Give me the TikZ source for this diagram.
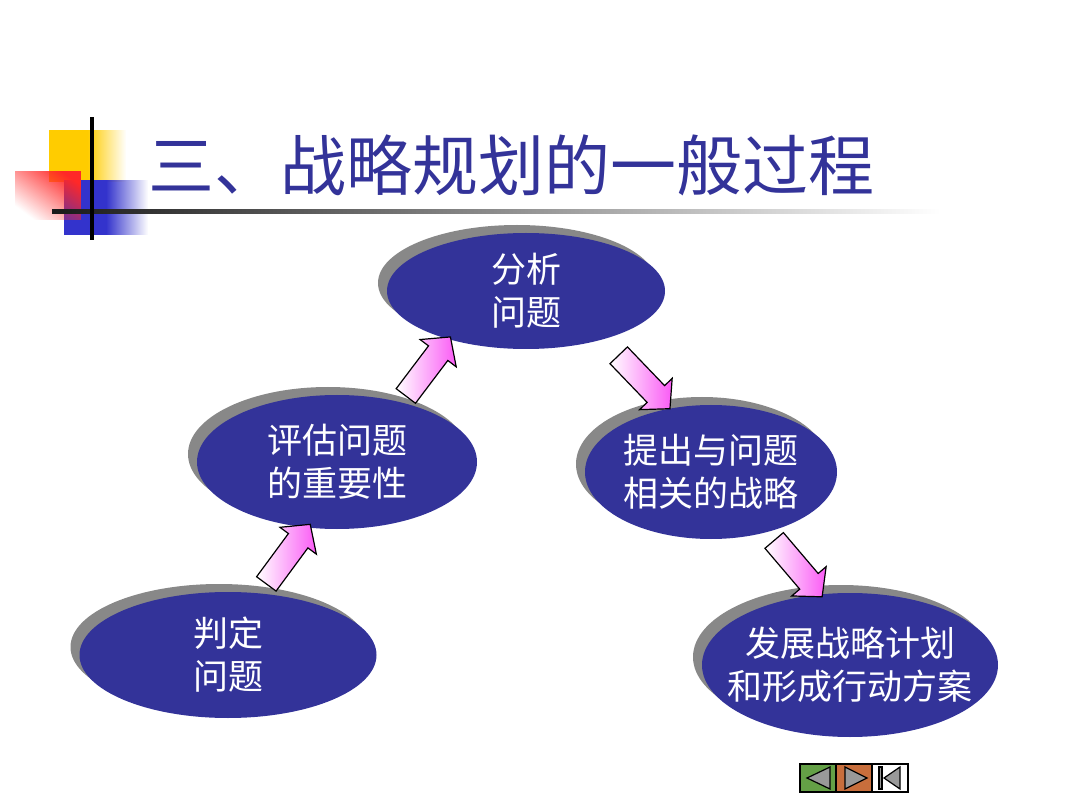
\documentclass[tikz,border=0pt]{standalone}
\usepackage{fontspec}
\setmainfont{Noto Sans CJK SC}
\usetikzlibrary{shapes.geometric,shapes.arrows,shadows,fadings}
\definecolor{stageblue}{RGB}{51,51,153}
\definecolor{shadowgray}{RGB}{136,136,136}
\definecolor{arrowpink}{RGB}{250,90,245}
\definecolor{decoyellow}{RGB}{255,204,0}
\definecolor{decored}{RGB}{255,40,40}
\definecolor{decoblue}{RGB}{51,51,204}
\definecolor{navgreen}{RGB}{100,160,70}
\definecolor{navorange}{RGB}{200,110,60}
\tikzfading[name=halfeast, left color=transparent!0, right color=transparent!100, middle color=transparent!0]
\tikzfading[name=redfade, left color=transparent!100, right color=transparent!0]
\tikzset{
  stage/.style={ellipse, fill=stageblue, text=white, inner sep=0pt, align=center,
    font=\fontsize{35}{43}\selectfont,
    drop shadow={shadow xshift=-9pt, shadow yshift=8pt, opacity=1, fill=shadowgray}},
  bigarrow/.style={single arrow, draw=black, line width=1.2pt, inner xsep=0pt, inner ysep=11.5pt,
    minimum height=74pt, single arrow head extend=10.5pt,
    single arrow tip angle=96, sloped, left color=white, right color=arrowpink},
  navtri/.style={fill=gray!80, draw=black, line width=1.2pt}
}
\begin{document}
\begin{tikzpicture}[x=1pt,y=-1pt]
    \useasboundingbox (0,0) rectangle (1080,810);
    \fill[decoyellow, path fading=halfeast] (49,130) rectangle (126,182);
    \fill[decoblue, path fading=halfeast] (64,180) rectangle (148,235);
    \fill[decored, path fading=redfade, fading angle=45] (15,171) rectangle (81,220);
    \shade[left color=black!90, middle color=black!60, right color=white] (52,210) rectangle (940,214);
    \fill[black] (90,117) rectangle (94,240);
    \node[anchor=west, text=stageblue, font=\fontsize{66}{70}\selectfont, inner sep=0pt] (title) at (148,165) {三、战略规划的一般过程};
    \node[stage, minimum width=278pt, minimum height=116pt] (fx) at (526,291) {分析\\问题};
    \node[stage, minimum width=280pt, minimum height=134pt] (pg) at (337,462) {评估问题\\的重要性};
    \node[stage, minimum width=252pt, minimum height=134pt] (tc) at (711,472) {提出与问题\\相关的战略};
    \node[stage, minimum width=297pt, minimum height=126pt] (pd) at (228,655) {判定\\问题};
    \node[stage, minimum width=296pt, minimum height=144pt, inner xsep=-18pt] (fz) at (850,665) {发展战略计划\\和形成行动方案};
    \path (pd.63) -- node[bigarrow, pos=.53] (arA) {} (pg.246);
    \path (pg.43) -- node[bigarrow] (arB) {} (fx.212);
    \path (fx.328) -- node[bigarrow, pos=.56] (arC) {} (tc.123);
    \path (tc.313) -- node[bigarrow, pos=.52] (arD) {} (fz.113);
    \foreach \c [count=\i from 0] in {navgreen,navorange,white}
    \draw[fill=\c, line width=1.5pt] (800+36*\i,764) rectangle +(36,28);
    \draw[navtri] (830,767) -- (830,789) -- (807,778) -- cycle;
    \draw[navtri] (845,767) -- (845,789) -- (867,778) -- cycle;
    \draw[navtri] (879,767) rectangle (882,789);
    \draw[navtri] (900,767) -- (900,789) -- (884,778) -- cycle;
\end{tikzpicture}
\end{document}
